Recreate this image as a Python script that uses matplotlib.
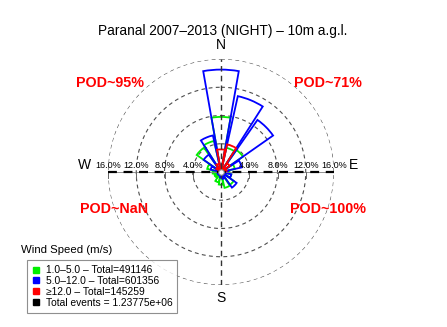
import numpy as np
import matplotlib
matplotlib.use('Agg')
import matplotlib.pyplot as plt
from matplotlib.lines import Line2D

plt.rcParams['font.family'] = ['Liberation Sans', 'DejaVu Sans']

# 16 wind directions, clockwise from North
directions = ['N', 'NNE', 'NE', 'ENE', 'E', 'ESE', 'SE', 'SSE',
              'S', 'SSW', 'SW', 'WSW', 'W', 'WNW', 'NW', 'NNW']
# frequency (%) per direction and speed class
low_speed = [7.8, 3.5, 3.8, 2.0, 1.2, 1.5, 2.2, 2.3, 1.8, 1.5, 1.0, 1.0, 1.2, 2.0, 4.2, 4.5]    # 1-5 m/s
mid_speed = [14.5, 11.0, 9.0, 3.0, 1.0, 1.5, 2.7, 1.0, 0.8, 0.5, 0.5, 0.5, 0.5, 1.5, 3.0, 5.3]  # 5-12 m/s
high_speed = [3.2, 4.0, 1.5, 0.8, 0.3, 0.2, 0.2, 0.1, 0.1, 0.1, 0.1, 0.1, 0.2, 0.3, 0.8, 1.2]  # >=12 m/s
ring_values = [4, 8, 12, 16]
legend_labels = ['1.0\u20135.0 \u2013 Total=491146',
                 '5.0\u201312.0 \u2013 Total=601356',
                 '\u226512.0 \u2013 Total=145259',
                 'Total events = 1.23775e+06']
pod_labels = ['POD~95%', 'POD~71%', 'POD~NaN', 'POD~100%']

W, H = 447, 327
fig = plt.figure(figsize=(W / 100, H / 100), dpi=100)

def fx(px):
    return px / W

def fy(py):
    return 1 - py / H

cx, cy, R = 221, 172, 113
rect = [fx(cx - R), fy(cy + R), 2 * R / W, 2 * R / H]

ax = fig.add_axes(rect, projection='polar')
ax.set_theta_zero_location('N')
ax.set_theta_direction(-1)
ax.set_ylim(0, 16)
ax.grid(False)
ax.set_xticks([])
ax.set_yticks([])
ax.spines['polar'].set_visible(False)
ax.patch.set_alpha(0)

th = np.linspace(0, 2 * np.pi, 400)
for r in ring_values:
    ax.plot(th, np.full_like(th, r), color='0.3', lw=0.8, ls=(0, (3.5, 3)))

theta = np.deg2rad(np.arange(16) * 22.5)
width = np.deg2rad(20)
for vals, col in [(low_speed, '#00ee00'), (mid_speed, '#0000ff'), (high_speed, '#ff0000')]:
    ax.bar(theta, vals, width=width, bottom=0, fill=False, edgecolor=col, lw=1.3, zorder=3)

# overlay cartesian axes for the cross and % labels
ov = fig.add_axes(rect)
ov.set_xlim(-16, 16)
ov.set_ylim(-16, 16)
ov.axis('off')
ov.plot([-16, 16], [0, 0], color='0.5', lw=0.6, zorder=4)
ov.plot([-16, 16], [0, 0], color='black', lw=1.6, ls=(0, (4, 3)), zorder=5)
ov.plot([0, 0], [-16, 16], color='0.2', lw=1.0, ls=(0, (4, 3)), zorder=5)
for v in ring_values:
    for s in (-1, 1):
        ov.plot([s * v, s * v], [0, -0.85], color='0.4', lw=0.7, zorder=4)
        ov.text(s * v, 0.9, '%.1f%%' % v, ha='center', va='center', fontsize=6.5, zorder=6)
ov.plot([0], [0], marker='o', ms=4, mfc='white', mec='0.5', mew=0.8, zorder=6)

fig.text(fx(223), fy(31), 'Paranal 2007\u20132013 (NIGHT) \u2013 10m a.g.l.', ha='center', va='center', fontsize=9.8)
fig.text(fx(221), fy(45), 'N', ha='center', va='center', fontsize=10)
fig.text(fx(221), fy(298), 'S', ha='center', va='center', fontsize=10)
fig.text(fx(85), fy(165), 'W', ha='center', va='center', fontsize=10)
fig.text(fx(353), fy(165), 'E', ha='center', va='center', fontsize=10)

pod_pos = [(110, 83), (328, 83), (114, 209), (328, 209)]
for lab, (px, py) in zip(pod_labels, pod_pos):
    fig.text(fx(px), fy(py), lab, ha='center', va='center', fontsize=10.3,
             fontweight='bold', color='red')

handles = [Line2D([], [], ls='none', marker='s', ms=4, mfc=c, mec=c)
           for c in ['#00ee00', '#0000ff', '#ff0000', 'black']]
leg = fig.legend(handles, legend_labels, loc='upper left',
                 bbox_to_anchor=(fx(27), fy(260)), fontsize=7.4,
                 frameon=True, fancybox=False, edgecolor='0.45',
                 handlelength=0.8, handletextpad=0.5, labelspacing=0.08,
                 borderpad=0.5, borderaxespad=0)
leg.get_frame().set_linewidth(0.8)
fig.text(fx(21), fy(250), 'Wind Speed (m/s)', ha='left', va='center', fontsize=8.2)

fig.savefig('out.png', dpi=100)
